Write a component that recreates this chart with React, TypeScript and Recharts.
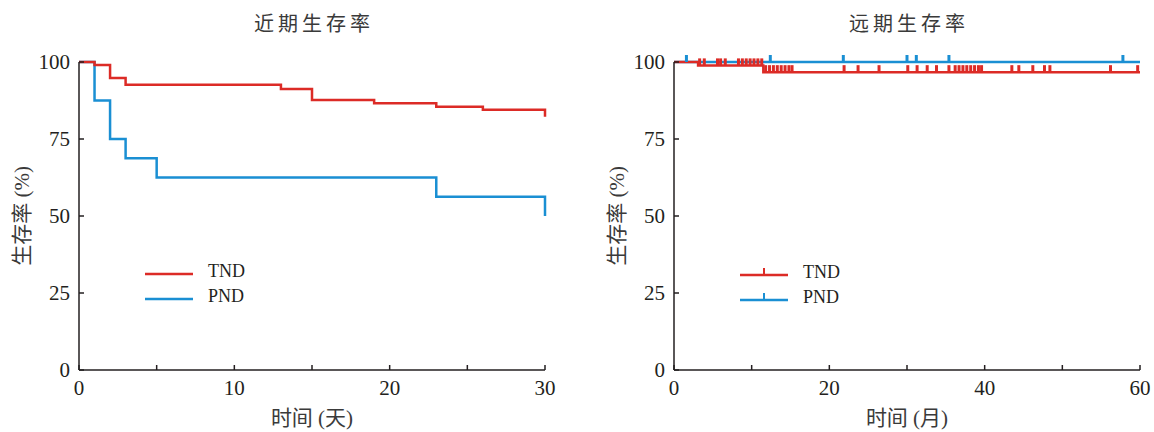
import React from "react";
import { ComposedChart, Line, Scatter, XAxis, YAxis, Legend } from "recharts";

// 近期生存率 (天)
const nearDaysTnd = [0, 1, 2, 3, 13, 15, 19, 23, 26, 30];
const nearSurvTnd = [100, 99, 94.8, 92.6, 91.2, 87.7, 86.6, 85.5, 84.5, 82.2];
const nearDaysPnd = [0, 1, 2, 3, 5, 23, 30];
const nearSurvPnd = [100, 87.5, 75, 68.75, 62.5, 56.25, 50];

// 远期生存率 (月)
const farMonthsTnd = [0, 3.1, 11.5, 60];
const farSurvTnd = [100, 98.9, 96.7, 96.7];
const farMonthsPnd = [0, 60];
const farSurvPnd = [100, 100];

// censored times (月)
const censorTnd = [
  3.3, 3.9, 5.6, 6.0, 6.6, 8.3, 8.8, 9.3, 9.8, 10.3, 10.8, 11.3,
  11.8, 12.3, 12.8, 13.3, 13.8, 14.3, 14.8, 15.2,
  21.9, 23.7, 26.4, 30.1, 31.3, 32.6, 33.8, 35.4,
  36.2, 36.7, 37.2, 37.7, 38.2, 38.7, 39.2, 39.6,
  43.5, 44.4, 46.2, 47.7, 48.4, 56.2, 59.7
];
const censorPnd = [1.6, 12.4, 21.8, 30.0, 31.2, 35.4, 57.8];

const nearTicks = [0, 5, 10, 15, 20, 25, 30];
const farTicks = [0, 10, 20, 30, 40, 50, 60];
const yTicks = [0, 25, 50, 75, 100];

const seriesNames = ["TND", "PND"];
const RED = "#dc2b26";
const BLUE = "#1a8fd3";
const seriesColors = [RED, BLUE];
const INK = "#231f20";
const FONT = "'Liberation Serif', 'Noto Sans CJK SC', serif";

const zip = (ts: number[], ss: number[]) => ts.map((t, i) => ({ t, s: ss[i] }));

const survAt = (ts: number[], ss: number[], t: number) => {
  let v = ss[0];
  ts.forEach((x, i) => {
    if (x <= t) v = ss[i];
  });
  return v;
};

const censorShape = (color: string) => (props: any) => {
  const { cx, cy } = props;
  return <line x1={cx} x2={cx} y1={cy} y2={cy - 7} stroke={color} strokeWidth={3} />;
};

const axisStyle = { stroke: INK, strokeWidth: 1.5 };
const tickStyle = { fontSize: 21, fill: INK, fontFamily: FONT };

const yLabel = (dx: number) => (p: any) => {
  const vb = p.viewBox;
  const cx = vb.x + dx;
  const cy = vb.y + vb.height / 2;
  return (
    <text
      x={cx}
      y={cy}
      transform={`rotate(-90, ${cx}, ${cy})`}
      textAnchor="middle"
      dominantBaseline="central"
      fontSize={21}
      fill="#3a3a3a"
      fontFamily={FONT}
    >
      生存率 (%)
    </text>
  );
};

const xLabel = (text: string) => (p: any) => {
  const vb = p.viewBox;
  return (
    <text
      x={vb.x + vb.width / 2}
      y={vb.y + 55}
      textAnchor="middle"
      fontSize={21}
      fill="#3a3a3a"
      fontFamily={FONT}
    >
      {text}
    </text>
  );
};

const legendContent = (withTick: boolean) => () => (
  <div style={{ fontFamily: FONT }}>
    {seriesNames.map((name, i) => (
      <div key={name} style={{ display: "flex", alignItems: "center", height: 25 }}>
        <svg width={48} height={14} style={{ display: "block" }}>
          <line x1={0} x2={48} y1={10} y2={10} stroke={seriesColors[i]} strokeWidth={2.5} />
          {withTick && <line x1={24} x2={24} y1={10} y2={3} stroke={seriesColors[i]} strokeWidth={2} />}
        </svg>
        <span style={{ marginLeft: 15, fontSize: 18, color: INK, lineHeight: "20px" }}>{name}</span>
      </div>
    ))}
  </div>
);

function Title({ text, center }: { text: string; center: number }) {
  return (
    <div
      style={{
        position: "absolute",
        left: center - 100,
        width: 200,
        top: 8,
        textAlign: "center",
        fontSize: 20,
        letterSpacing: 4,
        color: "#3a3a3a",
        fontFamily: FONT
      }}
    >
      {text}
    </div>
  );
}

export default function App() {
  const farCensorTnd = censorTnd.map((t) => ({ t, s: survAt(farMonthsTnd, farSurvTnd, t) }));
  const farCensorPnd = censorPnd.map((t) => ({ t, s: survAt(farMonthsPnd, farSurvPnd, t) }));

  return (
    <div style={{ position: "absolute", left: 0, top: 0, width: 1154, height: 432, background: "#fff", fontFamily: FONT }}>
      <Title text="近期生存率" center={314} />
      <Title text="远期生存率" center={909} />

      <div style={{ position: "absolute", left: 0, top: 0 }}>
        <ComposedChart width={580} height={432} margin={{ top: 62, right: 35, bottom: 0, left: 0 }}>
          <XAxis
            dataKey="t"
            type="number"
            domain={[0, 30]}
            ticks={nearTicks}
            interval={0}
            height={62}
            tickSize={-5}
            tickMargin={15}
            tickFormatter={(v: number) => (v % 10 === 0 ? String(v) : "")}
            axisLine={axisStyle}
            tickLine={axisStyle}
            tick={tickStyle}
            label={{ content: xLabel("时间 (天)") }}
          />
          <YAxis
            type="number"
            domain={[0, 100]}
            ticks={yTicks}
            interval={0}
            width={79}
            tickSize={-5}
            tickMargin={14}
            axisLine={axisStyle}
            tickLine={axisStyle}
            tick={tickStyle}
            label={{ content: yLabel(22) }}
          />
          <Legend
            layout="vertical"
            verticalAlign="middle"
            align="center"
            wrapperStyle={{ left: 145, top: 258, width: "auto" }}
            content={legendContent(false)}
          />
          <Line
            data={zip(nearDaysPnd, nearSurvPnd)}
            dataKey="s"
            name="PND"
            type="stepAfter"
            stroke={BLUE}
            strokeWidth={2.5}
            dot={false}
            isAnimationActive={false}
          />
          <Line
            data={zip(nearDaysTnd, nearSurvTnd)}
            dataKey="s"
            name="TND"
            type="stepAfter"
            stroke={RED}
            strokeWidth={2.5}
            dot={false}
            isAnimationActive={false}
          />
        </ComposedChart>
      </div>

      <div style={{ position: "absolute", left: 580, top: 0 }}>
        <ComposedChart width={574} height={432} margin={{ top: 62, right: 14, bottom: 0, left: 0 }}>
          <XAxis
            dataKey="t"
            type="number"
            domain={[0, 60]}
            ticks={farTicks}
            interval={0}
            height={62}
            tickSize={-5}
            tickMargin={15}
            tickFormatter={(v: number) => (v % 20 === 0 ? String(v) : "")}
            axisLine={axisStyle}
            tickLine={axisStyle}
            tick={tickStyle}
            label={{ content: xLabel("时间 (月)") }}
          />
          <YAxis
            type="number"
            domain={[0, 100]}
            ticks={yTicks}
            interval={0}
            width={94}
            tickSize={-5}
            tickMargin={14}
            axisLine={axisStyle}
            tickLine={axisStyle}
            tick={tickStyle}
            label={{ content: yLabel(37) }}
          />
          <Legend
            layout="vertical"
            verticalAlign="middle"
            align="center"
            wrapperStyle={{ left: 160, top: 259, width: "auto" }}
            content={legendContent(true)}
          />
          <Line
            data={zip(farMonthsPnd, farSurvPnd)}
            dataKey="s"
            name="PND"
            type="stepAfter"
            stroke={BLUE}
            strokeWidth={2.5}
            dot={false}
            isAnimationActive={false}
          />
          <Scatter
            data={farCensorPnd}
            dataKey="s"
            name="PND censored"
            shape={censorShape(BLUE)}
            legendType="none"
            isAnimationActive={false}
          />
          <Line
            data={zip(farMonthsTnd, farSurvTnd)}
            dataKey="s"
            name="TND"
            type="stepAfter"
            stroke={RED}
            strokeWidth={2.5}
            dot={false}
            isAnimationActive={false}
          />
          <Scatter
            data={farCensorTnd}
            dataKey="s"
            name="TND censored"
            shape={censorShape(RED)}
            legendType="none"
            isAnimationActive={false}
          />
        </ComposedChart>
      </div>
    </div>
  );
}
